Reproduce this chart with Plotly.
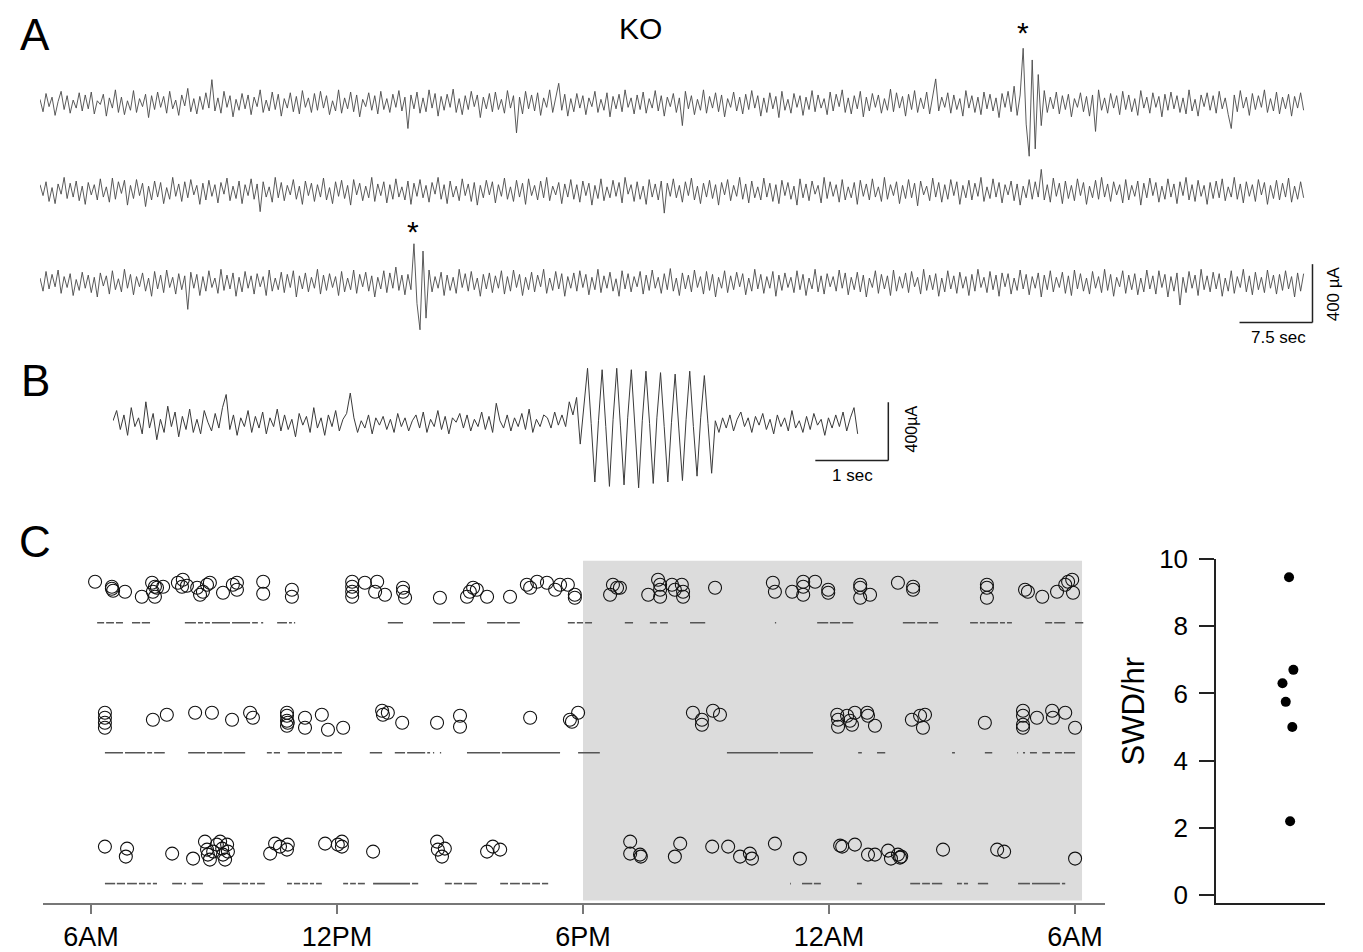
import plotly.graph_objects as go

# ---------------- Panel A: EEG traces (uA), sampled every 0.31 s ----------------
A_DT = 0.31
trace_a1 = [
 30,-55,70,-20,45,-80,15,85,-40,55,-65,25,-30,75,-50,60,-35,80,-70,20,-5,65,-85,40,-30,95,-60,45,-75,20,
-45,90,-60,35,-20,65,-95,55,-40,80,-25,50,-65,85,-35,25,-80,60,-15,105,-55,35,-70,50,-40,75,-30,165,-50,40,
-65,85,-25,55,-90,30,-45,70,-35,60,-75,45,-20,95,-60,25,-50,80,-40,65,-85,35,-30,75,-55,50,-70,90,-25,40,
-60,70,-45,85,-30,55,-75,20,-50,95,-65,40,-35,80,-55,60,-90,30,-20,75,-45,55,-70,85,-40,35,-60,65,-25,90,
-50,45,-170,60,-35,80,-65,40,-55,95,-30,70,-85,50,-45,65,-25,100,-60,35,-75,55,-40,85,-20,60,-95,45,-35,70,
-55,80,-40,30,-65,90,-30,55,-200,45,-70,85,-35,60,-50,75,-80,40,-25,95,-60,50,140,-45,65,-85,35,-55,70,-30,
 55,-75,40,-20,85,-60,30,-45,75,-90,50,-35,65,-55,95,-25,40,-70,60,-40,80,-65,35,-30,90,-50,55,-85,45,-20,
 70,-60,40,-150,85,-35,55,-75,30,-45,95,-65,50,-30,75,-55,60,-90,35,-25,80,-50,45,-70,65,-40,90,-30,55,-85,
 40,-60,75,-35,50,-95,85,-45,30,-65,70,-25,55,-80,45,-40,90,-55,60,-30,35,-75,80,-50,65,-20,95,-60,40,-70,
 55,-35,85,-90,45,-50,70,-25,60,-65,35,-45,100,-55,75,-30,50,-85,65,-40,90,-60,40,-35,80,-70,55,170,-50,45,
-25,75,-65,60,-40,35,-85,90,-30,55,-60,45,-75,80,-35,65,-50,40,-95,70,-25,85,-55,120,-80,60,380,-140,-360,300,
-310,200,-150,90,-60,45,-35,80,-70,55,-40,65,-90,35,-25,75,-55,50,-85,60,-190,95,-45,40,-65,70,-30,55,-75,85,
-40,60,-55,35,-80,90,-30,45,-65,75,-25,50,-90,65,-45,80,-35,55,-60,40,-70,95,-50,30,-85,60,-20,75,-45,55,
-65,85,-35,40,-75,-170,60,-55,90,-30,45,-80,70,-40,55,-25,95,-60,35,-50,80,-70,45,-35,65,-85,50,-30,75,-45]
trace_a2 = [
 45,-30,65,-70,25,-85,50,-20,95,-50,55,-40,70,-65,35,-90,60,-25,45,-60,85,-40,30,-75,90,-55,65,-15,75,-95,
 40,-50,80,-30,55,-105,35,-60,70,-40,60,-85,25,-55,95,-35,50,-70,65,-45,80,-25,40,-90,55,-60,75,-35,45,-80,
 60,-20,90,-65,35,-50,70,-85,45,-30,85,-55,50,-140,65,-40,30,-75,95,-45,60,-65,40,-25,80,-55,35,-90,70,-30,
 55,-70,45,-40,90,-60,25,-85,65,-35,75,-50,40,-95,80,-25,55,-65,35,-45,95,-70,50,-30,65,-80,45,-55,85,-40,
 30,-60,70,-90,55,-35,80,-45,40,-75,60,-20,95,-55,45,-85,70,-40,35,-65,85,-30,50,-70,60,-95,40,-45,75,-25,
 65,-80,45,-35,90,-55,30,-70,75,-40,55,-90,85,-30,40,-60,70,-45,95,-65,35,-25,60,-85,50,-40,80,-55,45,-75,
 70,-30,55,-95,40,-50,85,-65,30,-45,75,-35,60,-80,95,-20,45,-70,65,-55,35,-90,80,-40,50,-60,70,-150,55,-35,
 85,-45,40,-75,65,-30,90,-60,35,-85,55,-40,75,-50,45,-95,60,-25,80,-65,40,-35,95,-55,50,-80,70,-45,30,-60,
 90,-40,55,-70,45,-85,75,-30,60,-55,35,-95,85,-45,50,-65,70,-20,40,-80,95,-50,65,-35,45,-75,80,-60,30,-45,
 60,-90,75,-35,50,-60,85,-40,30,-70,95,-55,45,-30,65,-85,40,-50,80,-45,55,-100,70,-25,35,-65,90,-40,60,-75,
 45,-55,80,-30,65,-90,40,-45,75,-60,55,-35,95,-70,30,-50,85,-40,60,-80,45,-25,70,-65,50,-95,35,-45,80,-55,
 65,-40,150,-60,45,-75,90,-35,55,-85,70,-50,40,-65,85,-30,60,-90,35,-45,75,-55,95,-40,50,-70,65,-25,45,-80,
 80,-60,40,-35,70,-95,55,-45,90,-30,60,-75,35,-55,85,-40,50,-85,65,-30,95,-60,45,-70,75,-35,40,-90,60,-50,
 70,-45,85,-65,30,-40,95,-55,50,-80,65,-35,45,-70,80,-25,60,-90,40,-50,75,-60,55,-40,90,-75,35,-55,65,-45]
trace_a3 = [
 35,-55,80,-40,60,-25,90,-70,45,-30,65,-85,25,-50,75,-35,55,-65,40,-95,70,-20,50,-75,85,-45,30,-60,95,-35,
 60,-80,45,-25,70,-55,35,-90,80,-40,55,-65,90,-30,40,-75,65,-45,50,-180,75,-35,60,-85,45,-55,85,-30,35,-70,
 95,-50,55,-40,70,-90,40,-60,80,-35,50,-75,65,-25,45,-85,90,-55,35,-45,75,-65,60,-30,85,-95,50,-40,70,-60,
 40,-35,95,-75,55,-50,65,-30,45,-85,80,-60,35,-45,90,-70,60,-25,75,-55,50,-95,40,-40,85,-65,70,-35,110,-50,
 55,-80,60,-45,270,-140,-320,220,-240,90,-60,45,-35,75,-85,55,-50,40,-70,95,-30,65,-55,80,-45,35,-90,60,-40,70,
-65,50,-35,85,-75,45,-55,90,-30,60,-85,40,-45,75,-60,55,-25,95,-70,35,-50,80,-40,65,-90,45,-35,70,-55,85,
-30,60,-80,40,-45,95,-65,50,-35,75,-55,30,-90,85,-40,65,-60,45,-25,80,-75,55,-50,90,-35,40,-70,65,-45,100,
-55,35,-85,70,-40,55,-60,90,-30,45,-75,80,-50,60,-95,40,-35,85,-65,50,-45,75,-25,65,-80,35,-55,95,-40,60,
-70,45,-35,80,-90,55,-50,70,-30,40,-65,85,-45,60,-85,35,-40,95,-60,50,-75,65,-25,45,-55,90,-35,70,-80,40,
-45,75,-60,55,-95,35,-30,85,-70,60,-40,50,-85,90,-55,45,-35,70,-65,80,-25,40,-75,95,-50,55,-45,65,-90,35,
-60,85,-40,50,-70,75,-35,45,-85,60,-55,95,-30,40,-65,80,-45,55,-90,70,-25,65,-75,35,-50,90,-40,60,-80,45,
-35,70,-95,55,-45,85,-60,40,-30,75,-70,50,-85,90,-40,65,-55,35,-75,80,-35,45,-65,95,-50,60,-90,40,-25,85,
-70,55,-45,65,-80,35,-60,90,-40,50,-75,85,-30,60,-95,45,-55,70,-150,40,-65,80,-35,55,-85,95,-45,50,-60,75,
-40,65,-90,35,-55,85,-70,45,-30,95,-60,50,-80,75,-45,40,-65,90,-35,55,-75,60,-50,85,-40,45,-95,70,-55,65]
a_offsets = [600, 0, -630]          # vertical stacking of the three traces (uA)

# ---------------- Panel B: single SWD (uA), sampled every 0.05 s ----------------
B_DT = 0.05
trace_b = [
 20, 90,-40, 60,-80,110,-20, 40,-70,150,-30, 70,-110, 30,-60,120,-20, 80,-90, 50,
-40,100,-60, 30,-70, 90, 10,-50, 70,-30,110,200,-40, 60,-80, 40,-20, 90,-60, 50,
-30, 80,-70, 40,-20,100,-50, 60,-40, 30,-90, 70,-10, 50,-60,110,-30, 40,-80, 60,
-20, 90,-50, 30, 70,210, 40,-60, 20,-30, 60,-70, 40,-10, 50,-40, 30,-60, 70,-20,
 40,-50, 20, 60,-30, 80,-60, 30,-20, 90,-40, 50,-70, 40, 10, 70,-30, 60,-50, 30,
-20, 80,-40, 50,-60,140, 20,-30, 60,-50, 40,-20, 70,-40,100,-60, 30,-20, 60, 40,
-30, 80,-10, 60,-20,150, 60,180,-140,100,380,  0,-400, 20,370,-20,-430, 30,380,-10,
-420, 40,370,-30,-440, 20,360,  0,-410, 40,350,-20,-400, 10,340,-30,-390, 30,360,-20,
-360, 40,330,  0,-340, 20,-60, 40,-30, 60,-50, 30, 80,-20, 40,-60, 50,-10, 70,-40,
 30,-70, 60,-20, 40,-50, 90,-30, 20,-60, 50,-40, 70,-10, 30,-80, 40,-30, 60,-20,
 80,-50, 40,110,-70]

# ---------------- Panel C: SWD raster (hours after 6AM) ----------------
hour_ticks = [0, 6, 12, 18, 24]
hour_labels = ["6AM", "12PM", "6PM", "12AM", "6AM"]
dark_start, dark_end = 12.0, 24.17

row_levels = [28.5, 15.5, 2.4]      # baseline of each animal's activity line

r1_swd_t = [0.10,0.51,0.51,0.54,0.83,1.24,1.49,1.56,1.51,1.56,1.61,1.76,2.12,2.22,2.24,2.34,
            2.59,2.66,2.73,2.83,2.90,3.22,3.46,3.56,3.56,4.20,4.20,4.90,4.90,6.37,6.37,6.37,
            6.37,6.68,6.98,6.93,7.17,7.61,7.61,7.66,8.51,9.17,9.24,9.32,9.41,9.66,10.22,10.63,
            10.71,10.88,11.12,11.32,11.44,11.63,11.80,11.80,12.66,12.73,12.83,12.90,13.59,13.83,
            13.88,13.88,13.88,14.17,14.24,14.41,14.44,14.44,15.22,16.63,16.68,17.10,17.37,17.37,
            17.37,17.66,17.98,17.98,18.76,18.76,18.76,19.00,19.68,20.05,20.05,21.85,21.85,21.85,
            22.78,22.85,23.20,23.56,23.76,23.83,23.93,23.95]
r1_swd_y = [32.6,32.1,31.9,31.7,31.6,31.1,32.5,32.1,31.6,31.1,32.0,32.1,32.5,32.1,32.8,32.2,
            32.0,31.3,31.6,32.3,32.5,31.5,32.3,31.8,32.5,32.6,31.4,31.8,31.1,32.6,32.1,31.6,
            31.1,32.5,32.6,31.6,31.3,32.0,31.6,31.0,31.0,31.1,31.6,32.0,31.8,31.1,31.1,32.3,
            32.0,32.6,32.5,31.8,32.3,32.3,31.3,31.0,31.3,32.3,32.0,32.0,31.3,32.8,
            32.3,31.8,31.1,32.3,31.8,32.3,31.6,31.1,32.0,32.5,31.6,31.6,32.6,32.1,
            31.3,32.6,31.8,31.5,32.3,32.0,31.0,31.3,32.5,32.1,31.8,32.3,32.0,31.0,
            31.8,31.6,31.1,31.6,32.3,32.6,32.8,31.5]
r2_swd_t = [0.34,0.34,0.34,0.34,1.51,1.85,2.54,2.95,3.44,3.88,3.95,4.78,4.78,4.78,4.78,4.80,
            5.22,5.22,5.63,5.78,6.15,7.10,7.12,7.24,7.59,8.44,9.00,9.00,10.71,11.68,11.73,11.88,
            14.68,14.90,14.90,15.17,15.34,18.20,18.22,18.22,18.44,18.51,18.56,18.63,18.93,18.95,
            19.12,20.02,20.22,20.29,20.34,21.80,22.73,22.73,22.73,22.73,23.07,23.44,23.46,23.76,
            24.00]
r2_swd_y = [19.5,19.0,18.5,18.0,18.8,19.3,19.5,19.5,18.8,19.5,19.0,19.5,19.2,18.7,18.2,18.5,
            19.0,18.0,19.3,17.8,18.0,19.7,19.3,19.5,18.5,18.5,19.2,18.1,19.0,18.8,18.6,19.5,
            19.5,18.8,18.3,19.7,19.3,19.3,18.8,18.1,19.2,18.7,18.3,19.5,19.5,19.2,
            18.2,18.8,19.2,18.0,19.3,18.5,19.7,19.2,18.3,18.0,19.0,19.7,19.0,19.5,
            18.0]
r3_swd_t = [0.34,0.88,0.85,1.98,2.49,2.78,2.83,2.85,2.90,2.98,3.07,3.15,3.20,3.22,3.27,3.32,
            3.34,4.37,4.49,4.61,4.78,4.80,5.71,6.02,6.12,6.12,6.88,8.44,8.46,8.56,8.63,9.66,
            9.80,9.98,13.15,13.15,13.39,13.41,14.24,14.37,15.15,15.54,15.83,16.07,16.12,16.68,
            17.29,18.27,18.32,18.63,18.95,19.12,19.44,19.51,19.68,19.73,19.76,20.78,22.10,22.27,
            24.00]
r3_swd_y = [6.1,5.9,5.1,5.4,4.9,6.6,5.8,5.3,4.8,5.6,6.3,6.6,5.9,5.3,4.8,6.3,
            5.6,5.4,6.4,6.1,5.8,6.3,6.4,6.3,6.6,6.1,5.6,6.6,5.8,5.1,5.9,5.6,
            6.1,5.8,6.6,5.4,5.3,5.1,5.1,6.4,6.1,6.1,5.1,5.4,4.9,6.4,
            4.9,6.2,6.1,6.3,5.3,5.3,5.7,4.9,5.3,5.0,5.1,5.8,5.8,5.6,
            4.9]

# activity bouts (start, end) in hours after 6AM
r1_bout_start = [0.15,0.37,0.61,1.00,1.24,2.29,2.61,2.78,2.95,3.44,3.93,4.15,4.54,4.83,4.95,7.24,
                 8.34,8.80,9.66,10.15,11.63,11.85,12.05,13.02,13.63,13.88,14.61,16.68,17.71,18.02,
                 18.32,19.80,20.15,20.44,21.44,21.68,21.85,22.17,22.34,23.27,23.49,24.00]
r1_bout_end   = [0.32,0.56,0.78,1.20,1.44,2.56,2.73,2.90,3.39,3.88,4.07,4.20,4.78,4.90,4.98,7.61,
                 8.76,9.12,10.10,10.46,11.80,12.00,12.22,13.22,13.80,14.07,14.98,16.71,17.98,18.27,
                 18.59,20.10,20.39,20.66,21.63,21.80,22.12,22.29,22.46,23.44,23.76,24.20]
r2_bout_start = [0.34,0.83,1.37,1.54,2.37,2.83,3.24,4.29,4.46,4.80,5.27,5.63,5.93,6.80,7.41,7.71,
                 8.20,8.34,8.51,9.17,10.02,11.88,15.51,16.80,18.71,19.17,21.00,21.80,22.59,22.73,
                 22.90,23.20,23.51,23.73]
r2_bout_end   = [0.78,1.32,1.49,1.80,2.78,3.20,3.76,4.41,4.61,5.22,5.59,5.88,6.12,7.10,7.66,8.15,
                 8.27,8.37,8.54,9.98,11.44,12.41,16.76,17.61,18.80,19.37,21.07,21.98,22.61,22.78,
                 23.07,23.39,23.68,24.00]
r3_bout_start = [0.34,0.63,0.88,1.17,1.37,1.51,1.98,2.27,2.46,3.22,3.68,3.88,4.05,4.78,4.95,5.15,
                 5.34,5.49,6.15,6.32,6.51,6.88,7.83,8.63,8.85,9.10,9.98,10.22,10.51,10.76,11.00,
                 17.05,17.34,17.63,18.68,19.98,20.27,20.51,21.12,21.29,21.63,22.61,22.95,23.68]
r3_bout_end   = [0.59,0.83,1.12,1.32,1.46,1.61,2.22,2.32,2.73,3.63,3.83,4.00,4.24,4.90,5.10,5.29,
                 5.44,5.63,6.27,6.46,6.68,7.78,7.98,8.80,9.05,9.41,10.17,10.46,10.71,10.95,11.15,
                 17.07,17.59,17.80,18.80,20.22,20.46,20.76,21.24,21.39,21.88,22.90,23.63,23.76]

# ---------------- Right panel: SWD per hour ----------------
swd_per_hr = [9.45, 6.7, 6.3, 5.75, 5.0, 2.2]
swd_jitter = [0.67, 0.71, 0.61, 0.64, 0.70, 0.68]

# ======================================================================
OFF = 8                      # page body margin
W, H = 1363 - OFF, 952 - OFF
def px(x): return (x - OFF) / W
def py(y): return 1 - (y - OFF) / H

FONT = "Liberation Sans, Arial, sans-serif"
fig = go.Figure()

for vals, off in zip([trace_a1, trace_a2, trace_a3], a_offsets):
    fig.add_trace(go.Scatter(
        x=[i * A_DT for i in range(len(vals))], y=[v + off for v in vals],
        mode="lines", line=dict(color="#484848", width=0.9),
        xaxis="x3", yaxis="y3", hoverinfo="skip"))

fig.add_trace(go.Scatter(
    x=[i * B_DT for i in range(len(trace_b))], y=trace_b,
    mode="lines", line=dict(color="#3a3a3a", width=1.0),
    xaxis="x4", yaxis="y4", hoverinfo="skip"))

for level, st, en in [(row_levels[0], r1_bout_start, r1_bout_end),
                      (row_levels[1], r2_bout_start, r2_bout_end),
                      (row_levels[2], r3_bout_start, r3_bout_end)]:
    xs, ys = [], []
    for s, e in zip(st, en):
        xs += [s, e, None]
        ys += [level, level, None]
    fig.add_trace(go.Scatter(x=xs, y=ys, mode="lines",
                             line=dict(color="#555555", width=1.6),
                             xaxis="x", yaxis="y", hoverinfo="skip"))

for tt, yy in [(r1_swd_t, r1_swd_y), (r2_swd_t, r2_swd_y), (r3_swd_t, r3_swd_y)]:
    fig.add_trace(go.Scatter(x=tt, y=yy, mode="markers",
                             marker=dict(symbol="circle-open", size=13,
                                         color="#111111", line=dict(width=1.1)),
                             xaxis="x", yaxis="y", hoverinfo="skip"))

fig.add_trace(go.Scatter(x=swd_jitter, y=swd_per_hr, mode="markers",
                         marker=dict(size=10, color="black"),
                         xaxis="x2", yaxis="y2", hoverinfo="skip"))

shapes = [
    dict(type="rect", xref="x", yref="y", x0=dark_start, x1=dark_end, y0=0.7, y1=34.7,
         fillcolor="#dcdcdc", line=dict(width=0), layer="below"),
    dict(type="line", xref="x3", yref="y3", x0=130.8, x1=130.8, y0=-900, y1=-500,
         line=dict(color="#222", width=1.5)),
    dict(type="line", xref="x3", yref="y3", x0=123.3, x1=130.8, y0=-900, y1=-900,
         line=dict(color="#222", width=1.5)),
    dict(type="line", xref="x4", yref="y4", x0=10.62, x1=10.62, y0=-253, y1=147,
         line=dict(color="#222", width=1.5)),
    dict(type="line", xref="x4", yref="y4", x0=9.62, x1=10.62, y0=-253, y1=-253,
         line=dict(color="#222", width=1.5)),
]

def ann(text, x, y, size, angle=0, xref="paper", yref="paper"):
    return dict(text=text, x=x, y=y, xref=xref, yref=yref, showarrow=False,
                xanchor="center", yanchor="middle", textangle=angle,
                font=dict(size=size, family=FONT, color="black"))

annotations = [
    ann("A", px(35), py(20), 44),
    ann("B", px(35), py(376), 44),
    ann("C", px(35), py(541), 44),
    ann("KO", px(640), py(14), 30),
    ann("*", px(1023), py(18), 30),
    ann("*", px(413), py(222), 30),
    ann("7.5 sec", px(1278), py(331), 17),
    ann("400 µA", px(1333), py(287), 17, angle=-90),
    ann("1 sec", px(852), py(473), 17),
    ann("400µA", px(911), py(426), 16, angle=-90),
    ann("SWD/hr", px(1133), py(716), 31, angle=-90),
]

hidden = dict(visible=False, showgrid=False, zeroline=False, fixedrange=True)

fig.update_layout(
    width=W, height=H, margin=dict(l=0, r=0, t=0, b=0),
    paper_bgcolor="white", plot_bgcolor="white", showlegend=False,
    shapes=shapes, annotations=annotations,
    xaxis=dict(domain=[px(43), px(1105)], range=[-1.17, 24.73],
               showline=True, linecolor="#777777", linewidth=1.5,
               ticks="outside", ticklen=9, tickwidth=1.5, tickcolor="#777777",
               tickvals=hour_ticks, ticktext=hour_labels,
               tickfont=dict(size=27, family=FONT, color="black"),
               showgrid=False, zeroline=False, anchor="y"),
    yaxis=dict(domain=[py(913), py(559)], range=[0.45, 34.9], visible=False,
               showgrid=False, zeroline=False, anchor="x"),
    xaxis2=dict(domain=[px(1216), px(1325)], range=[0, 1], showline=True,
                linecolor="#222", linewidth=1.5, showticklabels=False, ticks="",
                showgrid=False, zeroline=False, anchor="y2"),
    yaxis2=dict(domain=[py(913), py(559)], range=[-0.23, 10], showline=True,
                linecolor="#222", linewidth=1.5, ticks="outside", ticklen=15,
                tickwidth=1.5, tickcolor="#222", tickvals=[0, 2, 4, 6, 8, 10],
                tickfont=dict(size=26, family=FONT, color="black"),
                ticklabelstandoff=6,
                showgrid=False, zeroline=False, anchor="x2"),
    xaxis3=dict(domain=[px(40), px(1330)], range=[0, 132.6], anchor="y3", **hidden),
    yaxis3=dict(domain=[py(331), py(31)], range=[-1000, 1000], anchor="x3", **hidden),
    xaxis4=dict(domain=[px(113), px(900)], range=[0, 10.78], anchor="y4", **hidden),
    yaxis4=dict(domain=[py(495), py(350)], range=[-500, 467], anchor="x4", **hidden),
)

fig.write_html("out.html")
